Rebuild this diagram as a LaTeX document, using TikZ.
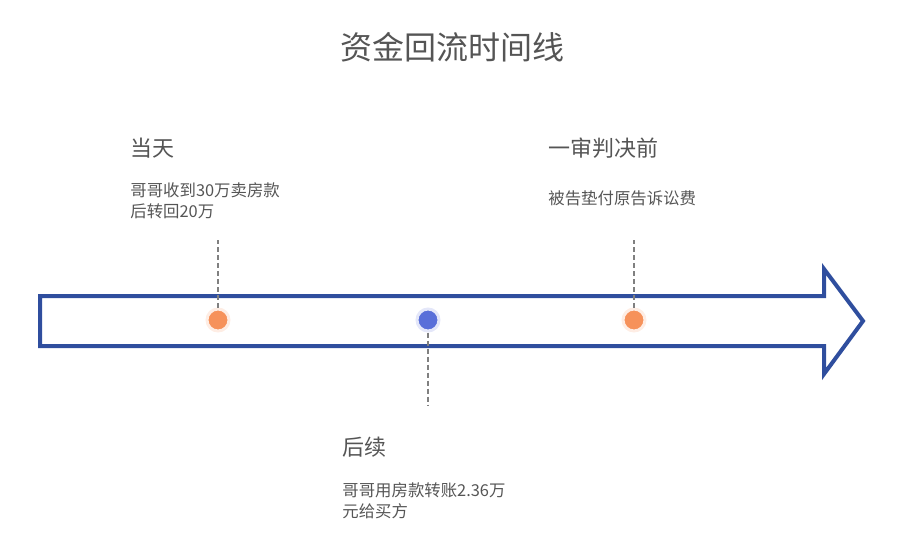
\documentclass[tikz,border=0pt]{standalone}
\usepackage{fontspec}
\newfontfamily\cjk{Noto Sans CJK SC}
\usetikzlibrary{positioning}
\definecolor{arrowblue}{HTML}{2F4E9E}
\definecolor{dotorange}{HTML}{F5894D}
\definecolor{dotblue}{HTML}{4B62D6}
\definecolor{textgray}{HTML}{555555}

\begin{document}
\begin{tikzpicture}[x=0.5pt, y=-0.5pt,
    dot/.style={circle, inner sep=0pt, minimum size=11pt, draw=#1!15, line width=1.5pt, fill=#1!92!white},
    heading/.style={anchor=west, inner sep=0pt, text=textgray, font=\cjk\fontsize{11}{13}\selectfont},
    detail/.style={anchor=north west, inner sep=0pt, align=left, text=textgray, font=\cjk\fontsize{8.2}{10.5}\selectfont},
    guide/.style={draw=gray, line width=0.8pt, dash pattern=on 2.5pt off 1.5pt}]
    \useasboundingbox (0,0) rectangle (900,552);

    % title
    \node[text=textgray, font=\cjk\fontsize{16}{19}\selectfont] (title) at (452,47) {资金回流时间线};

    % timeline arrow
    \draw[arrowblue, line width=2pt, line join=miter] (40,296) -- (824,296) -- (824,269) -- (863,321)
        -- (824,374) -- (824,346) -- (40,346) -- cycle;

    % events on the line
    \node[dot=dotorange] (day) at (218,320) {};
    \node[dot=dotblue] (later) at (428,320) {};
    \node[dot=dotorange] (trial) at (634,320) {};

    \coordinate (dayend) at (218,240);
    \coordinate (laterend) at (428,405);
    \coordinate (trialend) at (634,240);
    \draw[guide] (day) -- (dayend);
    \draw[guide] (later) -- (laterend);
    \draw[guide] (trial) -- (trialend);

    % labels
    \node[heading] (dayhead) at (130,148) {当天};
    \node[detail] (daytext) at (130,182) {哥哥收到30万卖房款\\后转回20万};

    \node[heading] (trialhead) at (548,148) {一审判决前};
    \node[detail] (trialtext) at (548,190) {被告垫付原告诉讼费};

    \node[heading] (laterhead) at (342,447) {后续};
    \node[detail] (latertext) at (342,482) {哥哥用房款转账2.36万\\元给买方};
\end{tikzpicture}
\end{document}
